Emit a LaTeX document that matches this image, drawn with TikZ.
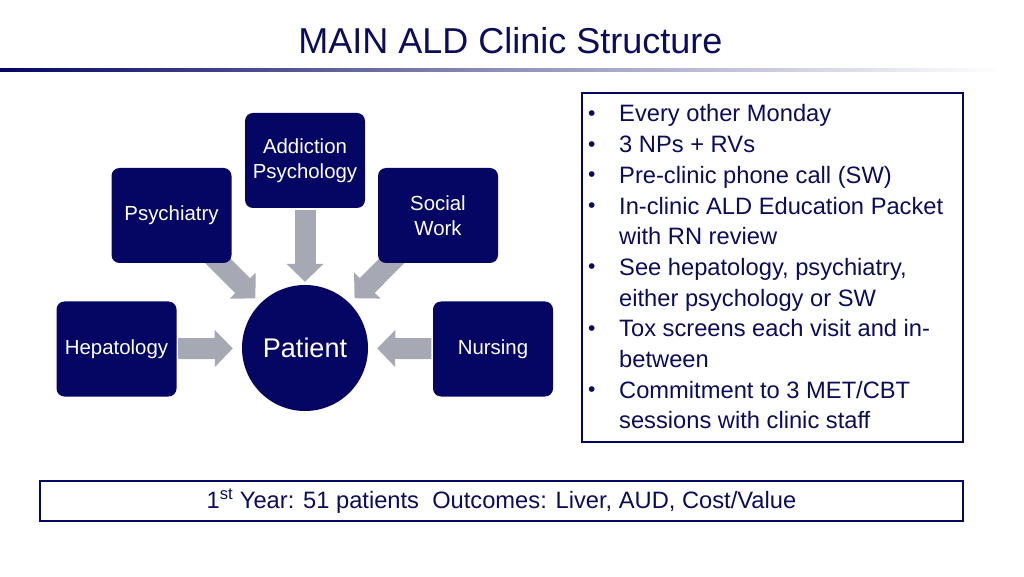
\documentclass[tikz,border=0pt]{standalone}
\usepackage{fontspec}
\setmainfont{Liberation Sans}
\usetikzlibrary{arrows.meta,backgrounds}
\definecolor{navy}{RGB}{5,5,100}
\definecolor{inknavy}{RGB}{12,12,88}
\definecolor{arrowgray}{RGB}{166,168,180}
\newcommand{\notebullet}{\raisebox{1.5pt}{\fontsize{21}{21}\selectfont\textbullet}}
\begin{document}
\begin{tikzpicture}[x=1pt,y=1pt,
  unit/.style={rectangle, rounded corners=8pt, fill=navy, text=white,
    minimum width=120pt, minimum height=95pt, align=center, inner sep=2pt,
    font=\fontsize{20.4}{24.5}\selectfont},
  hub/.style={circle, fill=navy, text=white, minimum size=126pt, inner sep=0pt,
    font=\fontsize{27}{32}\selectfont},
  feed/.style={draw=arrowgray, line width=21pt, -{Triangle[width=36pt,length=18pt]}},
  panel/.style={draw=navy, line width=1.8pt, inner sep=0pt}
]
\useasboundingbox (0,0) rectangle (1024,576);

% title
\node[anchor=base, text=inknavy, font=\fontsize{36}{40}\selectfont] (title) at (510.5,522) {MAIN ALD Clinic Structure};
\shade[left color=navy, right color=white, middle color=navy!45] (0,504.5) rectangle (1000,507);

% nodes
\node[hub] (pat) at (305,228) {Patient};
\node[unit] (add) at (305,415.5) {Addiction\\Psychology};
\node[unit] (psy) at (171.5,360.5) {Psychiatry};
\node[unit] (sw)  at (438,360.5) {Social\\Work};
\node[unit] (hep) at (116.5,227) {Hepatology};
\node[unit] (nur) at (493,227) {Nursing};

\coordinate (psyA) at ([shift={(32pt,-31pt)}]psy.center);
\coordinate (swA)  at ([shift={(-32pt,-31pt)}]sw.center);

\begin{scope}[on background layer]
\draw[feed, shorten <=2pt, shorten >=3pt] (add) -- (pat);
\draw[feed, shorten <=1.5pt, shorten >=9pt] (hep) -- (pat);
\draw[feed, shorten <=1.5pt, shorten >=9pt] (nur) -- (pat);
\draw[feed, shorten >=7pt] (psyA) -- (pat);
\draw[feed, shorten >=7pt] (swA) -- (pat);
\end{scope}

% notes panel
\node[panel, minimum width=381pt, minimum height=349pt] (notes) at (772.5,308.5) {};
\node[anchor=base west, inner sep=0pt, text=inknavy, font=\fontsize{23.7}{30.7}\selectfont] (list) at (588,454) {%
\setlength{\tabcolsep}{0pt}\renewcommand{\arraystretch}{1}%
\begin{tabular}[t]{@{}p{31pt}@{}l@{}}
\notebullet & Every other Monday\\
\notebullet & 3 NPs + RVs\\
\notebullet & Pre-clinic phone call (SW)\\
\notebullet & In-clinic ALD Education Packet\\
 & with RN review\\
\notebullet & See hepatology, psychiatry,\\
 & either psychology or SW\\
\notebullet & Tox screens each visit and in-\\
 & between\\
\notebullet & Commitment to 3 MET/CBT\\
 & sessions with clinic staff
\end{tabular}};

% bottom banner
\node[panel, minimum width=923pt, minimum height=40pt, text=inknavy,
  font=\fontsize{23.7}{28}\selectfont] (year) at (501.5,75)
  {1\textsuperscript{st} Year: 51 patients\ \ Outcomes: Liver, AUD, Cost/Value};
\end{tikzpicture}
\end{document}
